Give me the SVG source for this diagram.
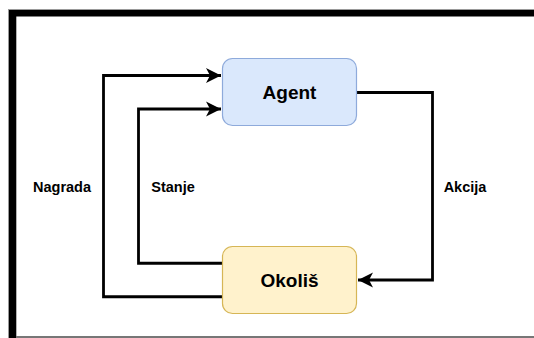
<svg xmlns="http://www.w3.org/2000/svg" width="534" height="338" viewBox="0 0 534 338">
<style>
.node rect{stroke-width:1.2}
.agent rect{fill:#dae8fc;stroke:#8eaadb}
.env rect{fill:#fff2cc;stroke:#d6b656}
.ntext{font-family:"Liberation Sans",Arial,sans-serif;font-weight:bold;font-size:19px;fill:#000;text-anchor:middle}
.lbl{font-family:"Liberation Sans",Arial,sans-serif;font-weight:bold;font-size:14.5px;fill:#000;text-anchor:middle}
.edge{fill:none;stroke:#000;stroke-width:2.8}
</style>
<defs>
<marker id="arr" markerUnits="userSpaceOnUse" markerWidth="18" markerHeight="18" refX="16" refY="8" orient="auto" viewBox="0 0 18 16">
<path d="M16,8 L1,0.5 L5,8 L1,15.5 Z" fill="#000"/>
</marker>
</defs>
<rect x="0" y="0" width="534" height="338" fill="#fff"/>
<g id="frame">
<rect x="8" y="9" width="526" height="1" fill="#999"/>
<rect x="8" y="9" width="1" height="329" fill="#999"/>
<rect x="9" y="10" width="525" height="6.5" fill="#000"/>
<rect x="9" y="10" width="7.3" height="328" fill="#000"/>
<rect x="16" y="336" width="518" height="2" fill="#777"/>
</g>
<g id="connectors">
<path class="edge" d="M222.5,296.75 H103.5 V75.5 H221" marker-end="url(#arr)"/>
<path class="edge" d="M222.5,263.25 H138.5 V109 H221" marker-end="url(#arr)"/>
<path class="edge" d="M356.5,92.5 H432.5 V280 H358" marker-end="url(#arr)"/>
</g>
<g id="labels">
<text class="lbl" x="62" y="192">Nagrada</text>
<text class="lbl" x="173" y="192">Stanje</text>
<text class="lbl" x="465" y="192">Akcija</text>
</g>
<g id="agent" class="node agent">
<rect x="222.5" y="58.5" width="134" height="67" rx="10"/>
<text class="ntext" x="289.5" y="99">Agent</text>
</g>
<g id="okolis" class="node env">
<rect x="222.5" y="246.5" width="134" height="67" rx="10"/>
<text class="ntext" x="289.5" y="287">Okoliš</text>
</g>
</svg>
